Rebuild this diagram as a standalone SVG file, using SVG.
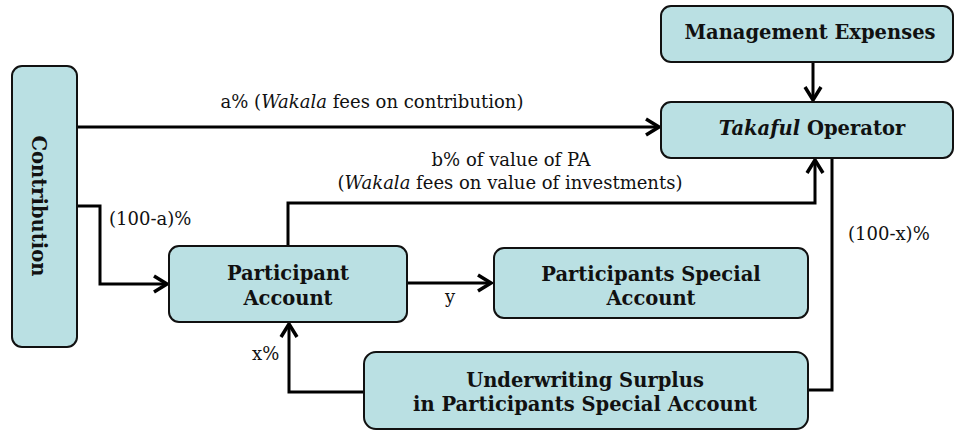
<svg xmlns="http://www.w3.org/2000/svg" width="957" height="432" viewBox="0 0 957 432">
<style>
.box{fill:#bae0e3;stroke:#111;stroke-width:2}
.lbl{font-family:"DejaVu Serif","Liberation Serif",serif;font-size:18px;fill:#111}
.nt{font-family:"DejaVu Serif","Liberation Serif",serif;font-size:19.5px;font-weight:bold;fill:#111;text-anchor:middle}
.ln{fill:none;stroke:#000;stroke-width:3}
.arr{fill:none;stroke:#000;stroke-width:3;marker-end:url(#ah)}
</style>
<defs>
<marker id="ah" viewBox="0 0 20 20" markerWidth="20" markerHeight="20" refX="17" refY="10" markerUnits="userSpaceOnUse" orient="auto">
<path d="M4,2 L17,10 L4,18" fill="none" stroke="#000" stroke-width="3.5"/>
</marker>
</defs>
<g id="connectors">
<path class="arr" d="M813,62 V100"/>
<path class="arr" d="M77,127 H659"/>
<path class="arr" d="M77,206 H100 V284 H167"/>
<path class="arr" d="M288,246 V203 H815 V160"/>
<path class="arr" d="M407,283 H491"/>
<path class="arr" d="M364,392 H289 V324"/>
<path class="ln" d="M808,390 H832 V158"/>
<text class="lbl" x="372" y="108" text-anchor="middle">a% (<tspan font-style="italic">Wakala</tspan> fees on contribution)</text>
<text class="lbl" x="511" y="166" text-anchor="middle">b% of value of PA</text>
<text class="lbl" x="510" y="189" text-anchor="middle">(<tspan font-style="italic">Wakala</tspan> fees on value of investments)</text>
<text class="lbl" x="109" y="225">(100-a)%</text>
<text class="lbl" x="848" y="240">(100-x)%</text>
<text class="lbl" x="445" y="303">y</text>
<text class="lbl" x="252" y="360">x%</text>
</g>
<g id="contribution">
<rect class="box" x="12" y="66" width="65" height="281" rx="10"/>
<text class="nt" font-size="20" transform="translate(32,206) rotate(90)">Contribution</text>
</g>
<g id="management-expenses">
<rect class="box" x="661" y="6" width="292" height="56" rx="10"/>
<text class="nt" x="810" y="39">Management Expenses</text>
</g>
<g id="takaful-operator">
<rect class="box" x="661" y="102" width="292" height="56" rx="10"/>
<text class="nt" x="812" y="135"><tspan font-style="italic">Takaful</tspan> Operator</text>
</g>
<g id="participant-account">
<rect class="box" x="169" y="246" width="238" height="76" rx="10"/>
<text class="nt" x="288" y="280">Participant</text>
<text class="nt" x="288" y="305">Account</text>
</g>
<g id="participants-special-account">
<rect class="box" x="494" y="248" width="314" height="70" rx="10"/>
<text class="nt" x="651" y="281">Participants Special</text>
<text class="nt" x="651" y="305">Account</text>
</g>
<g id="underwriting-surplus">
<rect class="box" x="364" y="352" width="444" height="77" rx="12"/>
<text class="nt" x="585" y="387">Underwriting Surplus</text>
<text class="nt" x="585" y="411">in Participants Special Account</text>
</g>
</svg>
